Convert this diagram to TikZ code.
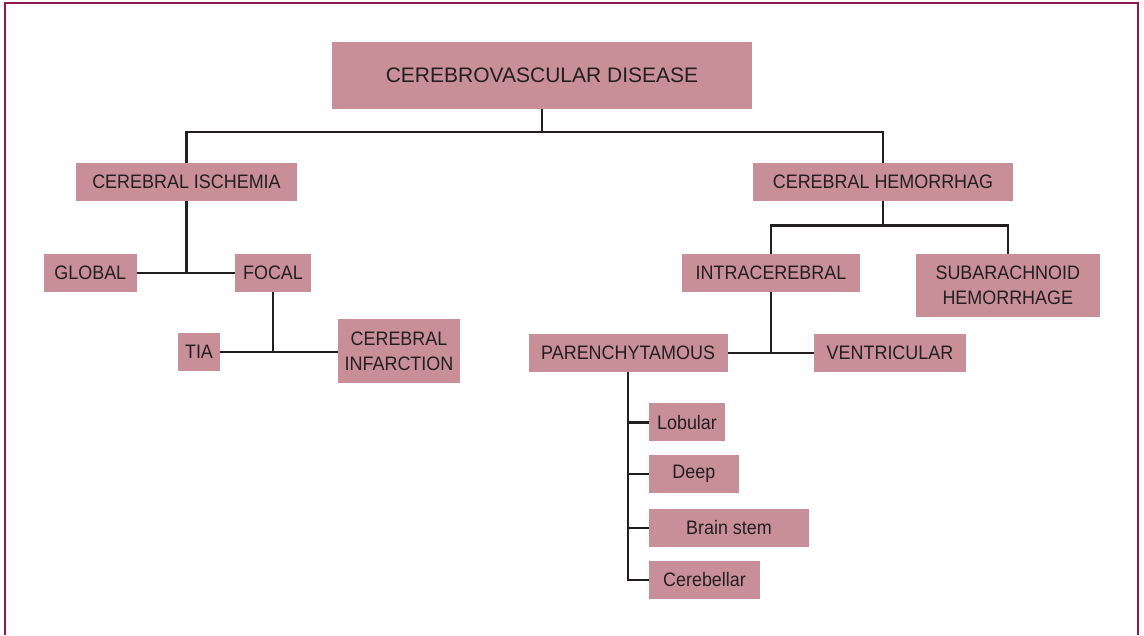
\documentclass[tikz,border=0pt]{standalone}
\usepackage{fontspec}
\setmainfont{Liberation Sans}[FakeStretch=0.92]
\newfontfamily\topfont{Liberation Sans}
\definecolor{boxfill}{HTML}{C98F99}
\definecolor{inkcol}{HTML}{231F20}
\definecolor{framecol}{HTML}{8C1A4F}
\begin{document}
\begin{tikzpicture}[x=1pt,y=-1pt,
  box/.style={fill=boxfill, text=inkcol, inner sep=0pt, align=center,
    font=\fontsize{19.5}{24.3}\selectfont},
  conn/.style={draw=inkcol, line width=2.6pt}]
\useasboundingbox (0,0) rectangle (1144,635);
\draw[framecol, line width=1.8pt] (5,635) -- (5,3) -- (1138,3) -- (1138,635);

\node[box, minimum width=420pt, minimum height=66.5pt, font=\topfont\fontsize{21}{25}\selectfont] (top) at (542,75.25) {CEREBROVASCULAR DISEASE};
\node[box, minimum width=221pt, minimum height=37.5pt] (isch) at (186.5,182) {CEREBRAL ISCHEMIA};
\node[box, minimum width=260pt, minimum height=37.5pt] (hem) at (883,182) {CEREBRAL HEMORRHAG};
\node[box, minimum width=92.7pt, minimum height=37.7pt] (global) at (90.3,272.8) {GLOBAL};
\node[box, minimum width=76pt, minimum height=37.7pt] (focal) at (273,272.8) {FOCAL};
\node[box, minimum width=42pt, minimum height=37.7pt] (tia) at (199,352) {TIA};
\node[box, minimum width=122pt, minimum height=64.3pt] (infarc) at (399,351.2) {CEREBRAL\\INFARCTION};
\node[box, minimum width=178pt, minimum height=37.7pt] (intra) at (771,272.8) {INTRACEREBRAL};
\node[box, minimum width=184.4pt, minimum height=62.7pt] (sub) at (1007.8,285.3) {SUBARACHNOID\\HEMORRHAGE};
\node[box, minimum width=198.8pt, minimum height=37.7pt] (paren) at (628.1,352.8) {PARENCHYTAMOUS};
\node[box, minimum width=152pt, minimum height=37.7pt] (vent) at (890,352.8) {VENTRICULAR};
\node[box, minimum width=76pt, minimum height=37.7pt] (lob) at (687,422.2) {Lobular};
\node[box, minimum width=89.7pt, minimum height=37.4pt] (deep) at (693.9,474) {Deep};
\node[box, minimum width=160pt, minimum height=37.7pt] (brain) at (729,527.8) {Brain stem};
\node[box, minimum width=111pt, minimum height=38pt] (cereb) at (704.5,580) {Cerebellar};

\draw[conn] (top.south) -- (top.south |- 0,132);
\draw[conn] (isch.north) |- (hem.north |- 0,132) -- (hem.north);
\draw[conn] (isch.south) -- (isch.south |- global.east);
\draw[conn] (global.east) -- (focal.west);
\draw[conn] (focal.south) -- (focal.south |- tia.east);
\draw[conn] (tia.east) -- (tia.east -| infarc.west);
\draw[conn] (hem.south) -- (hem.south |- 0,226);
\draw[conn] (intra.north) -- ++(0,-28) -| (sub.north);
\draw[conn] (intra.south) -- (intra.south |- paren.east);
\draw[conn] (paren.east) -- (vent.west);
\draw[conn] (paren.south) |- (cereb.west);
\draw[conn] (lob.west) -- (lob.west -| paren.south);
\draw[conn] (deep.west) -- (deep.west -| paren.south);
\draw[conn] (brain.west) -- (brain.west -| paren.south);
\end{tikzpicture}
\end{document}
